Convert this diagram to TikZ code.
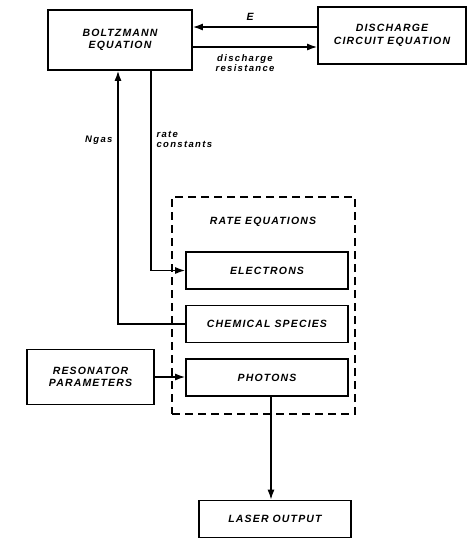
\documentclass[tikz,border=0pt]{standalone}
\usepackage{fontspec}
\setsansfont{Liberation Sans}[LetterSpace=11]
\newfontfamily\notefont{Liberation Sans}[LetterSpace=14]
\usetikzlibrary{arrows.meta,positioning}

\begin{document}
\begin{tikzpicture}[
  x=1pt, y=-1pt,
  >={Latex[length=10pt,width=7pt]},
  every node/.style={font=\sffamily\bfseries\itshape\fontsize{10.5}{12.5}\selectfont},
  block/.style={draw, line width=1.6pt, minimum width=162pt, minimum height=37pt,
                inner sep=2pt, align=center},
  frame/.style={draw, line width=1.3pt, dash pattern=on 8pt off 5pt},
  conn/.style={->, line width=1.5pt},
  note/.style={font=\notefont\bfseries\itshape\fontsize{9.5}{10}\selectfont}
]
\useasboundingbox (0,0) rectangle (468,539);
%% top row
\node[block, minimum width=144pt, minimum height=60pt] (boltz) at (120,40) {BOLTZMANN\\EQUATION};
\node[block, minimum width=148pt, minimum height=57pt] (disch) at (392,35.5) {DISCHARGE\\CIRCUIT EQUATION};
%% rate equations group
\node[frame, minimum width=183pt, minimum height=217pt] (rate) at (263.5,305.5) {};
\node (ratetitle) at (263,222) {RATE EQUATIONS};
\node[block] (elec) at (267,270.5) {ELECTRONS};
\node[block, below=15pt of elec] (chem) {CHEMICAL SPECIES};
\node[block, below=15pt of chem] (phot) {PHOTONS};
%% inputs and output
\node[block, minimum width=127pt, minimum height=55pt] (reso) at (90.5,377) {RESONATOR\\PARAMETERS};
\node[block, minimum width=152pt] (laser) at (275,519) {LASER OUTPUT};
%% labels
\node (elabel) at (250,17) {E};
\node[note, align=center] (reslabel) at (245,63) {discharge\\resistance};
\node[note, align=left, anchor=west] (ratelabel) at (153,139) {rate\\constants};
\node[note, anchor=east] (ngaslabel) at (116,140) {Ngas};
%% connectors
\draw[conn] (disch.west |- 0,27) -- (boltz.east |- 0,27);
\draw[conn] (boltz.east |- 0,47) -- (disch.west |- 0,47);
\draw[conn] (boltz.south -| 151,0) |- (elec.west);
\draw[conn] (chem.west) -| (boltz.south -| 118,0);
\draw[conn] (reso.east) -- (reso.east -| phot.west);
\draw[conn] (phot.south -| 271,0) -- (laser.north -| 271,0);
\end{tikzpicture}
\end{document}
